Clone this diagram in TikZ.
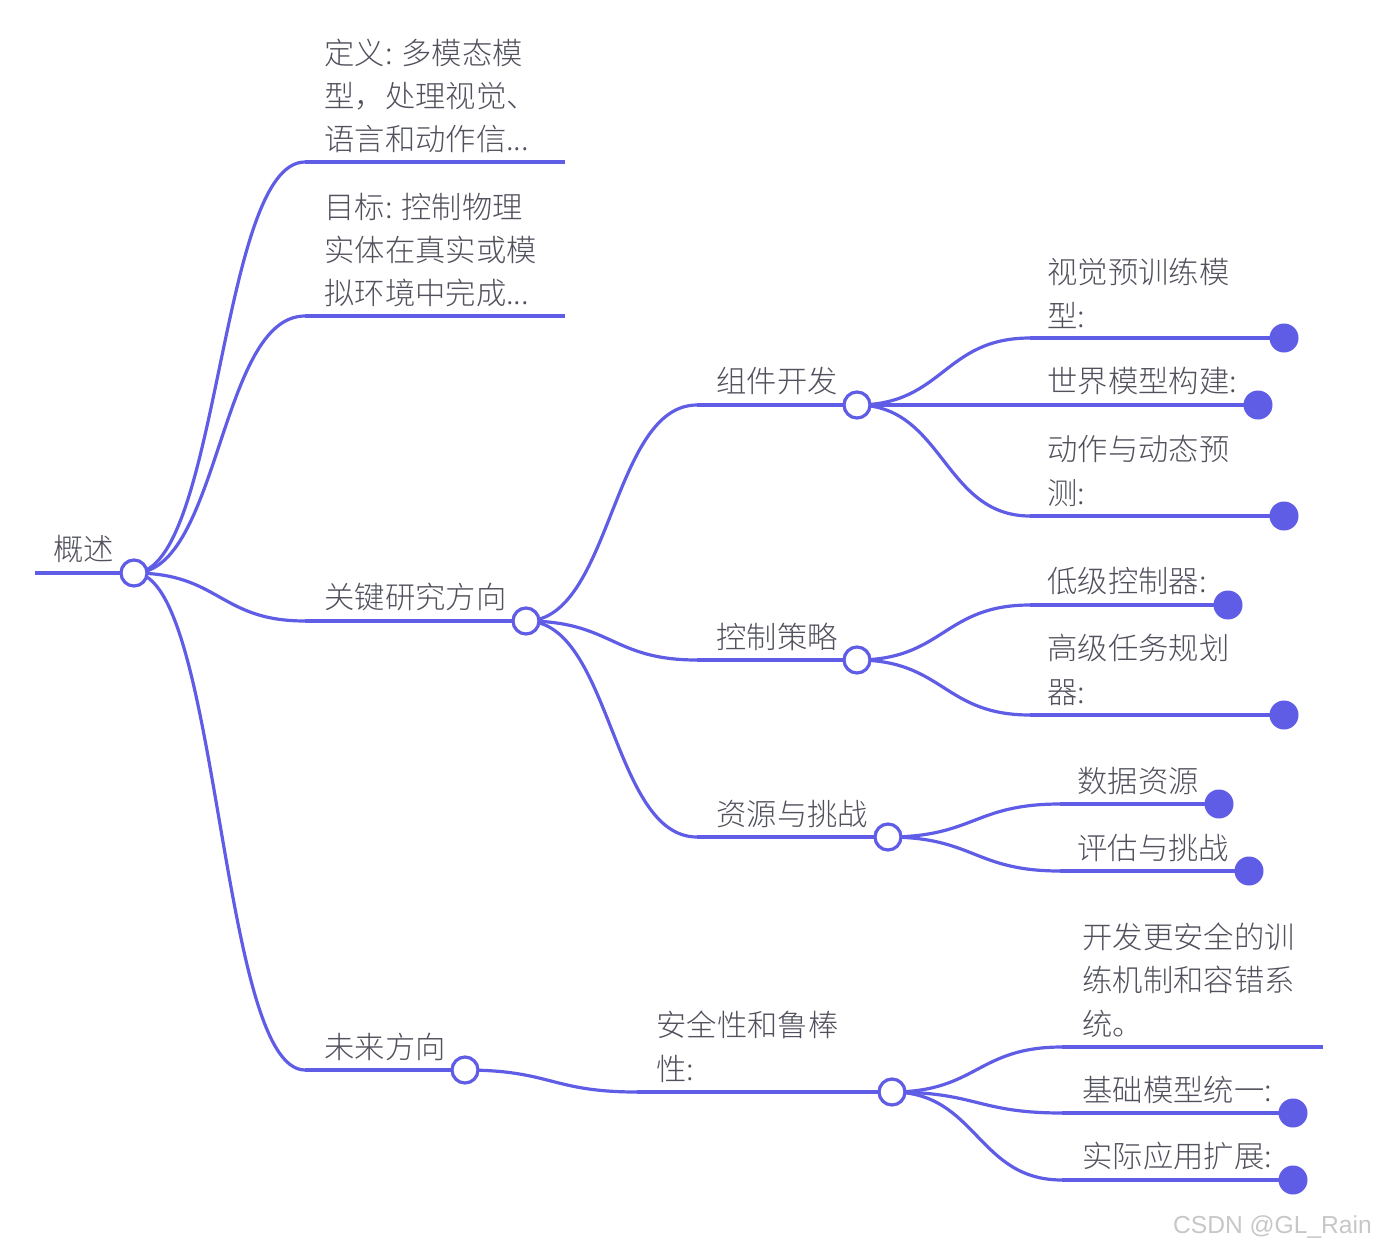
\documentclass[tikz,border=0pt]{standalone}
\usepackage{fontspec}
\setmainfont{Noto Sans CJK SC Light}
\newfontfamily\wmfont{Liberation Sans}
\usetikzlibrary{calc}
\definecolor{link}{HTML}{5F5CE6}
\definecolor{txt}{HTML}{50515C}
\tikzset{
  x=1pt,y=-1pt,
  hub/.style={circle,draw=link,fill=white,line width=3.2pt,minimum size=26pt,inner sep=0pt},
  dot/.style={circle,fill=link,minimum size=29pt,inner sep=0pt},
  link/.style={draw=link,line width=3.2pt},
  lab/.style={anchor=south west,inner sep=0pt,align=left,text=txt,xshift=-0.6pt,yshift=4.5pt,font=\fontsize{30.3}{43.4}\selectfont},
}
\newcommand{\curv}[2]{\draw[link] (#1) .. controls ($(#1)!0.5!(#2|-#1)$) and ($(#2)!0.5!(#1|-#2)$) .. (#2);}
\begin{document}
\begin{tikzpicture}
\useasboundingbox (0,0) rectangle (1375,1247);
% elbows and free ends
\coordinate (s) at (35,573);
\coordinate (e1) at (305,162); \coordinate (e1r) at (565,162);
\coordinate (e2) at (305,316); \coordinate (e2r) at (565,316);
\coordinate (e3) at (305,621);
\coordinate (e4) at (305,1070);
\coordinate (a1) at (697,405);
\coordinate (a2) at (697,660);
\coordinate (a3) at (697,837);
\coordinate (b1) at (1030,338);
\coordinate (b2) at (1030,405);
\coordinate (b3) at (1030,516);
\coordinate (b4) at (1030,605);
\coordinate (b5) at (1030,715);
\coordinate (b6) at (1060,804);
\coordinate (b7) at (1060,871);
\coordinate (c0) at (637,1092);
\coordinate (c1) at (1062,1047); \coordinate (c1r) at (1323,1047);
\coordinate (c2) at (1062,1113);
\coordinate (c3) at (1062,1180);
\coordinate (rootc) at (134,573);
\coordinate (keyc) at (526,621);
\coordinate (compc) at (857,405);
\coordinate (ctrlc) at (857,660);
\coordinate (resc) at (888,837);
\coordinate (futc) at (465,1070);
\coordinate (safec) at (892,1092);
\coordinate (d1) at (1284,338);
\coordinate (d2) at (1258,405);
\coordinate (d3) at (1284,516);
\coordinate (d4) at (1228,605);
\coordinate (d5) at (1284,715);
\coordinate (d6) at (1219,804);
\coordinate (d7) at (1249,871);
\coordinate (d8) at (1293,1113);
\coordinate (d9) at (1293,1180);
% connectors
\draw[link,line width=4pt] (s) -- (rootc);
\curv{rootc}{e1} \draw[link] (e1) -- (e1r);
\curv{rootc}{e2} \draw[link] (e2) -- (e2r);
\curv{rootc}{e3} \draw[link] (e3) -- (keyc);
\curv{rootc}{e4} \draw[link] (e4) -- (futc);
\curv{keyc}{a1} \draw[link] (a1) -- (compc);
\curv{keyc}{a2} \draw[link] (a2) -- (ctrlc);
\curv{keyc}{a3} \draw[link] (a3) -- (resc);
\curv{compc}{b1} \draw[link] (b1) -- (d1);
\draw[link] (compc) -- (d2);
\curv{compc}{b3} \draw[link] (b3) -- (d3);
\curv{ctrlc}{b4} \draw[link] (b4) -- (d4);
\curv{ctrlc}{b5} \draw[link] (b5) -- (d5);
\curv{resc}{b6} \draw[link] (b6) -- (d6);
\curv{resc}{b7} \draw[link] (b7) -- (d7);
\curv{futc}{c0} \draw[link] (c0) -- (safec);
\curv{safec}{c1} \draw[link] (c1) -- (c1r);
\curv{safec}{c2} \draw[link] (c2) -- (d8);
\curv{safec}{c3} \draw[link] (c3) -- (d9);
% hubs
\node[hub] (root) at (rootc) {};
\node[hub] (key) at (keyc) {};
\node[hub] (comp) at (compc) {};
\node[hub] (ctrl) at (ctrlc) {};
\node[hub] (res) at (resc) {};
\node[hub] (fut) at (futc) {};
\node[hub] (safe) at (safec) {};
% leaves
\foreach \i in {1,...,9} {\node[dot] (leaf\i) at (d\i) {};}
% labels
\node[lab] (t0) at (54,568) {概述};
\node[lab] (t1) at (325,158) {定义: 多模态模\\型，处理视觉、\\语言和动作信...};
\node[lab] (t2) at (325,312) {目标: 控制物理\\实体在真实或模\\拟环境中完成...};
\node[lab] (t3) at (325,616) {关键研究方向};
\node[lab] (t4) at (325,1065) {未来方向};
\node[lab] (t5) at (717,400) {组件开发};
\node[lab] (t6) at (717,655) {控制策略};
\node[lab] (t7) at (717,832) {资源与挑战};
\node[lab] (t8) at (657,1087) {安全性和鲁棒\\性:};
\node[lab] (t9) at (1048,333) {视觉预训练模\\型:};
\node[lab] (t10) at (1048,400) {世界模型构建:};
\node[lab] (t11) at (1048,511) {动作与动态预\\测:};
\node[lab] (t12) at (1048,600) {低级控制器:};
\node[lab] (t13) at (1048,710) {高级任务规划\\器:};
\node[lab] (t14) at (1078,799) {数据资源};
\node[lab] (t15) at (1078,866) {评估与挑战};
\node[lab] (t16) at (1083,1042) {开发更安全的训\\练机制和容错系\\统。};
\node[lab] (t17) at (1083,1108) {基础模型统一:};
\node[lab] (t18) at (1083,1175) {实际应用扩展:};
\node[anchor=base west,inner sep=0pt,text=black!22,font=\wmfont\fontsize{24.6}{28}\selectfont] (wm) at (1173,1233) {CSDN @GL\_Rain};
\end{tikzpicture}
\end{document}
